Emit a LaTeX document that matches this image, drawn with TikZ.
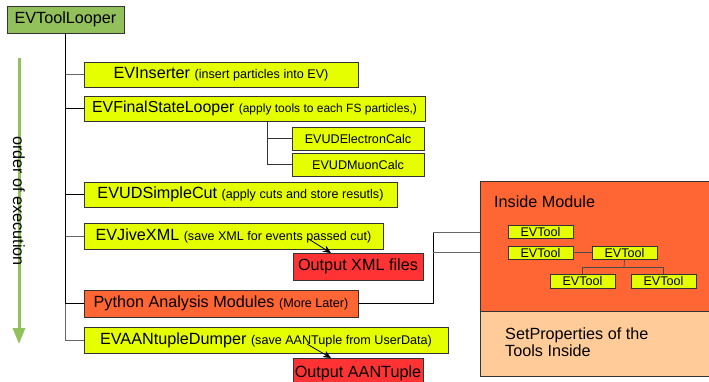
\documentclass[tikz,border=0pt]{standalone}
\usepackage{fontspec}
\setmainfont{Liberation Sans}
\usetikzlibrary{arrows.meta,calc}
\definecolor{boxyellow}{RGB}{230,255,0}
\definecolor{boxred}{RGB}{255,51,51}
\definecolor{boxorange}{RGB}{255,102,51}
\definecolor{boxpeach}{RGB}{255,204,153}
\definecolor{loopgreen}{RGB}{146,192,90}
\definecolor{edge}{RGB}{51,51,51}
\newcommand{\bigtxt}{\fontsize{16.2}{19}\selectfont}
\newcommand{\smalltxt}{\fontsize{12.6}{15}\selectfont}
\newcommand{\tinytxt}{\fontsize{12}{14}\selectfont}
\tikzset{
  blk/.style={rectangle, draw=edge, line width=0.9pt, inner sep=0pt, font=\bigtxt},
  ybox/.style={blk, fill=boxyellow},
  rbox/.style={blk, fill=boxred},
  obox/.style={blk, fill=boxorange},
  toolbox/.style={blk, fill=boxyellow, font=\smalltxt, minimum width=65pt},
  link/.style={draw=black, line width=0.8pt},
  glink/.style={draw=black!60, line width=0.8pt},
  outarrow/.style={draw=black, line width=0.8pt, -{Stealth[length=8pt,width=7pt]}}
}
\begin{document}
\begin{tikzpicture}[x=1pt,y=-1pt]
\useasboundingbox (0,0) rectangle (709,381);
\clip (0,0) rectangle (709,381);

% execution order arrow
\draw[loopgreen, line width=3pt, -{Triangle[length=16pt,width=12pt]}] (19,58) -- (19,344);
\node[rotate=-90, font=\bigtxt, inner sep=0pt] (order) at (19,201) {order of execution};

% top-level looper and its modules
\node[blk, fill=loopgreen, minimum width=117pt, minimum height=27pt] (looper) at (65.5,19.5) {EVToolLooper};
\node[ybox, minimum width=274pt, minimum height=25pt] (ins) at (221,74.5) {EVInserter {\smalltxt (insert particles into EV)}};
\node[ybox, minimum width=341pt, minimum height=25pt, font=\fontsize{15.9}{19}\selectfont] (fsl) at (254.5,108.5) {EVFinalStateLooper {\tinytxt (apply tools to each FS particles,)}};
\node[ybox, font=\smalltxt, minimum width=132pt, minimum height=23pt] (ele) at (358,138.5) {EVUDElectronCalc};
\node[ybox, font=\smalltxt, minimum width=132pt, minimum height=23pt] (muon) at (358,164.5) {EVUDMuonCalc};
\node[ybox, minimum width=313pt, minimum height=25pt] (cut) at (240.5,194.5) {EVUDSimpleCut {\smalltxt (apply cuts and store resutls)}};
\node[ybox, minimum width=299pt, minimum height=26pt] (jive) at (233.5,236) {EVJiveXML {\smalltxt (save XML for events passed cut)}};
\node[rbox, minimum width=130pt, minimum height=27pt] (xml) at (358,266.5) {Output XML files};
\node[obox, minimum width=274pt, minimum height=27pt] (py) at (221,303.5) {Python Analysis Modules {\smalltxt (More Later)}};
\node[ybox, minimum width=364pt, minimum height=26pt] (aan) at (266,340) {EVAANtupleDumper {\smalltxt (save AANTuple from UserData)}};
\node[rbox, minimum width=130pt, minimum height=30pt, text depth=0pt, anchor=north] (aout) at (358,358) {\raisebox{4pt}{Output AANTuple}};

% tree connectors
\draw[glink] (looper.south) |- (ins.west);
\draw[glink] (looper.south) |- (jive.west);
\draw[glink] (looper.south) |- (aan.west);
\draw[link] (looper.south) |- (fsl.west);
\draw[link] (looper.south) |- (cut.west);
\draw[link] (looper.south) |- (py.west);

\coordinate (fslb) at (267,121);
\draw[link, draw=black!80] (fslb) |- (ele.west);
\draw[link, draw=black!80] (fslb) |- (muon.west);

% outputs
\coordinate (jsrc) at (307,238);
\coordinate (jdst) at (331,253);
\draw[outarrow] (jsrc) -- (jdst);
\coordinate (asrc) at (307,344);
\coordinate (adst) at (331,358);
\draw[outarrow] (asrc) -- (adst);

% python module detail
\node[blk, fill=boxorange, minimum width=232pt, minimum height=130pt] (module) at (596,246) {};
\node[blk, fill=boxpeach, minimum width=232pt, minimum height=65pt] (props) at (596,343.5) {};
\node[anchor=west, font=\bigtxt, inner sep=0pt] (modtitle) at (494,202) {Inside Module};
\node[anchor=west, font=\bigtxt, inner sep=0pt, align=left] (proptxt) at (505,342) {SetProperties of the\\[-1.5pt]Tools Inside};

\coordinate (j1) at (433,232);
\coordinate (j2) at (433,252);
\draw[link] (py.east) -| (j1);
\draw[glink] (j1) -- (j1 -| module.west);
\draw[glink] (j2) -- (j2 -| module.west);

\node[toolbox, minimum height=13pt] (t1) at (540.5,231.5) {EVTool};
\node[toolbox, minimum height=13pt] (t2) at (540.5,252.5) {EVTool};
\node[toolbox, minimum height=13pt] (t3) at (624.5,252.5) {EVTool};
\node[toolbox, minimum height=14pt] (t4) at (582.5,281) {EVTool};
\node[toolbox, minimum height=14pt] (t5) at (663.5,281) {EVTool};
\coordinate (tj) at (624,267);
\draw[link, draw=black!70] (t2.east) -- (t3.west);
\draw[link, draw=black!70] (t3.south) -- (tj);
\draw[link, draw=black!70] (tj) -| (t4.north);
\draw[link, draw=black!70] (tj) -| (t5.north);
\end{tikzpicture}
\end{document}
